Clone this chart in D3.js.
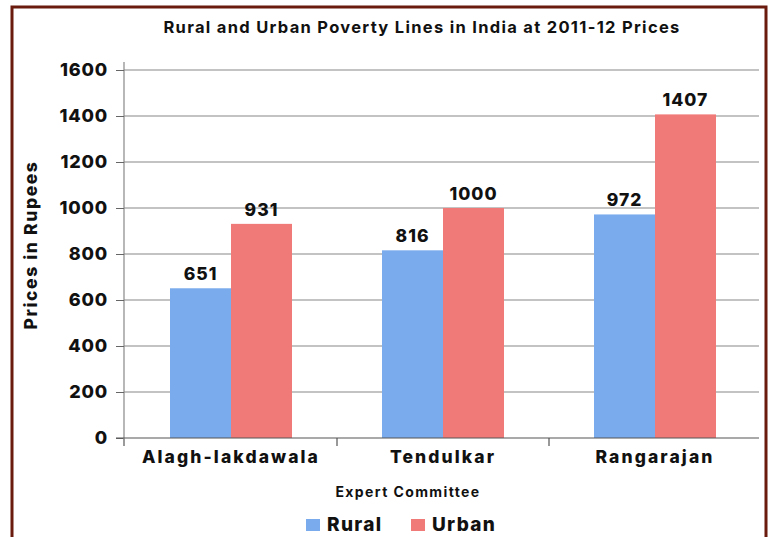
<!DOCTYPE html>
<html><head><meta charset="utf-8">
<script src="https://cdn.jsdelivr.net/npm/d3@7"></script>
<style>body{margin:0;background:#fff;} svg{display:block;font-family:Inter,"Open Sans",sans-serif;}</style>
</head><body>
<script>
const categories = ["Alagh-lakdawala", "Tendulkar", "Rangarajan"];
const seriesNames = ["Rural", "Urban"];
const rural = [651, 816, 972];
const urban = [931, 1000, 1407];
const yTicks = [0, 200, 400, 600, 800, 1000, 1200, 1400, 1600];
const colors = {Rural: "#7aabec", Urban: "#f07a78"};

const W = 771, H = 537;
const svg = d3.select("body").append("svg").attr("width", W).attr("height", H);

// border
svg.append("path").attr("d", `M12,${H+5} L12,7 L766,7 L766,${H+5}`)
  .attr("fill", "none").attr("stroke", "#6b1a0e").attr("stroke-width", 3);

const pLeft = 124, pRight = 759, pTop = 70, pBottom = 438;
const y = d3.scaleLinear().domain([0, 1600]).range([pBottom, pTop]);
const x0 = d3.scaleBand().domain(categories).range([125, 761]).padding(0);
const x1 = d3.scaleBand().domain(seriesNames).range([45, 167]).padding(0);

// gridlines
svg.append("g").selectAll("line").data(yTicks.filter(d => d > 0)).join("line")
  .attr("x1", pLeft).attr("x2", pRight).attr("y1", d => y(d)).attr("y2", d => y(d))
  .attr("stroke", "#888").attr("stroke-width", 1.2);

// y axis
const yAxis = svg.append("g").attr("transform", `translate(${pLeft},0)`)
  .call(d3.axisLeft(y).tickValues(yTicks).tickFormat(d3.format("d")).tickSize(8).tickPadding(8).tickSizeOuter(0));
yAxis.select(".domain").attr("stroke", "#888").attr("stroke-width", 1.2).attr("d", `M0,${pTop-8}V${pBottom+8}`);
yAxis.selectAll(".tick line").attr("stroke", "#666");
yAxis.selectAll("text").attr("font-size", 18).attr("font-weight", 800).attr("fill", "#111")
  .attr("letter-spacing", 0.8).attr("font-family", "Inter, sans-serif");

// bars
const data = categories.map((c, i) => ({cat: c, vals: [{k: "Rural", v: rural[i]}, {k: "Urban", v: urban[i]}]}));
const g = svg.append("g").selectAll("g").data(data).join("g")
  .attr("transform", d => `translate(${x0(d.cat)},0)`);
g.selectAll("rect").data(d => d.vals).join("rect")
  .attr("x", d => x1(d.k)).attr("width", x1.bandwidth())
  .attr("y", d => y(d.v)).attr("height", d => y(0) - y(d.v))
  .attr("fill", d => colors[d.k]);
g.selectAll("text").data(d => d.vals).join("text")
  .attr("x", d => x1(d.k) + x1.bandwidth() / 2).attr("y", d => y(d.v) - 8)
  .attr("text-anchor", "middle").attr("font-size", 17.5).attr("font-weight", 800).attr("fill", "#111")
  .attr("letter-spacing", 1)
  .text(d => d.v);

// x axis
const xAxis = svg.append("g").attr("transform", `translate(0,${pBottom})`)
  .call(d3.axisBottom(x0).tickSize(0).tickPadding(9));
xAxis.select(".domain").attr("stroke", "#555").attr("stroke-width", 1.2).attr("d", `M${pLeft-8},0H${pRight}`);
xAxis.selectAll("text").attr("font-size", 17.5).attr("font-weight", 800).attr("fill", "#111")
  .attr("letter-spacing", 2.1).attr("dy", "0.9em").attr("font-family", "Inter, sans-serif");
// category separator ticks
svg.append("g").selectAll("line").data(categories.slice(1)).join("line")
  .attr("x1", d => x0(d)).attr("x2", d => x0(d)).attr("y1", pBottom).attr("y2", pBottom + 8)
  .attr("stroke", "#555").attr("stroke-width", 1.2);
svg.append("line").attr("x1", pLeft).attr("x2", pLeft).attr("y1", pBottom).attr("y2", pBottom + 8)
  .attr("stroke", "#888").attr("stroke-width", 1.2);

// titles
svg.append("text").attr("x", 422).attr("y", 33).attr("text-anchor", "middle")
  .attr("font-size", 16.5).attr("font-weight", 700).attr("fill", "#111").attr("letter-spacing", 1.3)
  .text("Rural and Urban Poverty Lines in India at 2011-12 Prices");
svg.append("text").attr("transform", "translate(37,245) rotate(-90)").attr("text-anchor", "middle")
  .attr("font-size", 17.5).attr("font-weight", 800).attr("fill", "#111").attr("letter-spacing", 1.6)
  .text("Prices in Rupees");
svg.append("text").attr("x", 408).attr("y", 497).attr("text-anchor", "middle")
  .attr("font-size", 14).attr("font-weight", 700).attr("fill", "#111").attr("letter-spacing", 1.4)
  .text("Expert Committee");

// legend
const leg = svg.append("g").selectAll("g").data(seriesNames).join("g")
  .attr("transform", (d, i) => `translate(${[306, 411][i]},519)`);
leg.append("rect").attr("width", 14).attr("height", 12).attr("fill", d => colors[d]);
leg.append("text").attr("x", 21).attr("y", 12).attr("font-size", 19).attr("font-weight", 800)
  .attr("letter-spacing", 1.3).attr("fill", "#111").text(d => d);
</script>
</body></html>
